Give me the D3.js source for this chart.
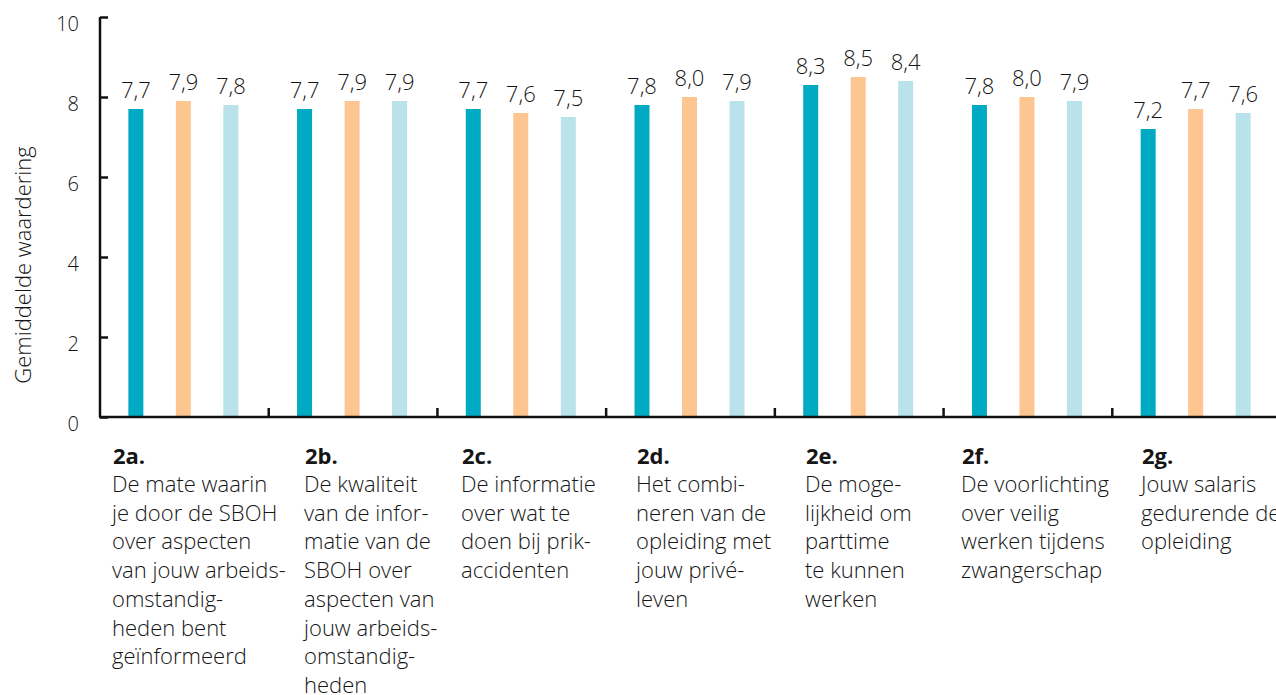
<!DOCTYPE html>
<html>
<head>
<meta charset="utf-8">
<script src="https://cdn.jsdelivr.net/npm/d3@7"></script>
<style>
  html, body { margin: 0; padding: 0; background: #fff; }
  svg { display: block; }
  text { font-family: "Open Sans", "Noto Sans", sans-serif; fill: #151515; }
</style>
</head>
<body>
<svg id="chart" width="1276" height="695"></svg>
<script>
const codes = ["2a.", "2b.", "2c.", "2d.", "2e.", "2f.", "2g."];
const descriptions = [
  ["De mate waarin", "je door de SBOH", "over aspecten", "van jouw arbeids-", "omstandig-", "heden bent", "geïnformeerd"],
  ["De kwaliteit", "van de infor-", "matie van de", "SBOH over", "aspecten van", "jouw arbeids-", "omstandig-", "heden"],
  ["De informatie", "over wat te", "doen bij prik-", "accidenten"],
  ["Het combi-", "neren van de", "opleiding met", "jouw privé-", "leven"],
  ["De moge-", "lijkheid om", "parttime", "te kunnen", "werken"],
  ["De voorlichting", "over veilig", "werken tijdens", "zwangerschap"],
  ["Jouw salaris", "gedurende de", "opleiding"]
];
const series1 = [7.7, 7.7, 7.7, 7.8, 8.3, 7.8, 7.2];
const series2 = [7.9, 7.9, 7.6, 8.0, 8.5, 8.0, 7.7];
const series3 = [7.8, 7.9, 7.5, 7.9, 8.4, 7.9, 7.6];
const seriesColors = ["#00aac2", "#fdc690", "#b9e2ea"];
const yTicks = [0, 2, 4, 6, 8, 10];
const yTitle = "Gemiddelde waardering";

// layout: left edge of each category label block (px)
const labelX = [113, 305, 462, 637, 806, 962, 1142];

const svg = d3.select("#chart");
const x0 = 100, x1 = 1281, yBase = 417, yTop = 17;

const x = d3.scaleBand().domain(codes).range([x0, x1]).padding(0);
const sub = d3.scalePoint().domain([0, 1, 2]).range([-47.5, 47.5]);
const y = d3.scaleLinear().domain([0, 10]).range([yBase, yTop]);
const barW = 15;

const allSeries = [series1, series2, series3];

// bars
allSeries.forEach((vals, si) => {
  const g = svg.append("g");
  g.selectAll("rect").data(vals).join("rect")
    .attr("x", (d, i) => x(codes[i]) + x.bandwidth() / 2 + sub(si) - barW / 2 - 1)
    .attr("width", barW)
    .attr("y", d => y(d))
    .attr("height", d => yBase - y(d))
    .attr("fill", seriesColors[si]);
  g.selectAll("text").data(vals).join("text")
    .attr("x", (d, i) => x(codes[i]) + x.bandwidth() / 2 + sub(si) - 1)
    .attr("y", d => y(d) - 11)
    .attr("text-anchor", "middle")
    .attr("font-size", 22)
    .attr("font-weight", 300)
    .text(d => d.toFixed(1).replace(".", ","));
});

// y axis
const yAxis = d3.axisRight(y).tickValues(yTicks).tickSize(8).tickFormat("");
const ga = svg.append("g").attr("transform", `translate(${x0},0)`).call(yAxis);
ga.select(".domain").attr("stroke", "#111").attr("stroke-width", 2.5).attr("d", `M0,${yTop}V${yBase}`);
ga.selectAll(".tick line").attr("stroke", "#111").attr("stroke-width", 2.5);

svg.append("g").selectAll("text").data(yTicks).join("text")
  .attr("x", 79)
  .attr("y", d => y(d) + 14)
  .attr("text-anchor", "end")
  .attr("font-size", 20)
  .attr("font-weight", 300)
  .text(d => d);

// x axis
const xAxis = d3.axisTop(x).tickSize(0).tickFormat("");
const gx = svg.append("g").attr("transform", `translate(0,${yBase})`).call(xAxis);
gx.select(".domain").attr("stroke", "#111").attr("stroke-width", 2.5).attr("d", `M${x0 - 1},0H${x1}`);
gx.selectAll(".tick").remove();
const tickPos = codes.slice(1).map(c => x(c));
svg.append("g").selectAll("line").data(tickPos).join("line")
  .attr("x1", d => d).attr("x2", d => d)
  .attr("y1", yBase).attr("y2", yBase - 9)
  .attr("stroke", "#111").attr("stroke-width", 2.5);

// category labels
const lab = svg.append("g");
codes.forEach((c, i) => {
  const lx = labelX[i];
  lab.append("text").attr("x", lx).attr("y", 464)
    .attr("font-size", 22).attr("font-weight", 700).text(c);
  descriptions[i].forEach((line, j) => {
    lab.append("text").attr("x", lx - 1).attr("y", 492 + j * 28.7)
      .attr("font-size", 22).attr("font-weight", 300).text(line);
  });
});

// y title
svg.append("text")
  .attr("transform", `translate(31,265) rotate(-90)`)
  .attr("text-anchor", "middle")
  .attr("font-size", 22)
  .attr("font-weight", 300)
  .text(yTitle);
</script>
</body>
</html>
